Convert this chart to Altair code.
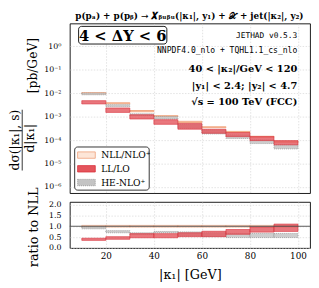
import altair as alt
import pandas as pd

# ---------------- data ----------------
bin_lo = [10, 20, 30, 40, 50, 60, 70, 80, 90]
bin_hi = [20, 30, 40, 50, 60, 70, 80, 90, 100]

# main panel  dσ/d|κ1|  [pb/GeV]
nll_lo = [9.3e-3, 3.55e-3, 1.62e-3, 1.00e-3, 5.6e-4, 3.4e-4, 2.14e-4, 1.32e-4, 8.1e-5]
nll_hi = [1.05e-2, 3.90e-3, 1.82e-3, 1.10e-3, 6.3e-4, 3.7e-4, 2.34e-4, 1.45e-4, 8.9e-5]
ll_lo = [3.47e-3, 1.51e-3, 7.9e-4, 4.7e-4, 2.9e-4, 1.95e-4, 1.41e-4, 9.5e-5, 6.3e-5]
ll_hi = [4.79e-3, 2.34e-3, 1.20e-3, 7.4e-4, 5.1e-4, 2.90e-4, 2.09e-4, 1.41e-4, 9.5e-5]
he_lo = [8.5e-3, 2.69e-3, 1.12e-3, 7.9e-4, 3.16e-4, 1.82e-4, 1.17e-4, 7.1e-5, 4.2e-5]
he_hi = [1.02e-2, 3.24e-3, 1.32e-3, 1.02e-3, 4.68e-4, 2.69e-4, 1.66e-4, 1.02e-4, 6.3e-5]

# ratio panel (to NLL)
nll_r_lo = [0.96, 0.96, 0.96, 0.96, 0.96, 0.96, 0.96, 0.96, 0.96]
nll_r_hi = [1.04, 1.04, 1.04, 1.04, 1.04, 1.04, 1.04, 1.04, 1.04]
ll_r_lo = [0.35, 0.40, 0.47, 0.47, 0.52, 0.52, 0.63, 0.73, 0.76]
ll_r_hi = [0.45, 0.52, 0.66, 0.66, 0.70, 0.77, 0.85, 0.97, 1.10]
he_r_lo = [0.88, 0.70, 0.62, 0.70, 0.55, 0.52, 0.48, 0.48, 0.48]
he_r_hi = [0.97, 0.80, 0.70, 0.76, 0.74, 0.70, 0.67, 0.67, 0.67]

series_names = ["NLL/NLO⁺", "LL/LO", "HE-NLO⁺"]
x_ticks = [20, 40, 60, 80, 100]
y_ticks = [1e-6, 1e-5, 1e-4, 1e-3, 1e-2, 1e-1, 1]
y_exps = [-6, -5, -4, -3, -2, -1, 0]
y_tick_labels = ["10⁻⁶", "10⁻⁵", "10⁻⁴", "10⁻³", "10⁻²", "10⁻¹", "10⁰"]
r_ticks = [0.0, 0.5, 1.0, 1.5, 2.0]

# ---------------- styling ----------------
SERIF = "DejaVu Serif"
MONO = "DejaVu Sans Mono"
W, H, HR = 245, 173, 47

NLL_FILL, NLL_STROKE = "#fde6d8", "#f0a078"
LL_FILL, LL_STROKE = "#e4555c", "#d8303a"
HE_FILL, HE_STROKE = "#c4c4c4", "#8c8c8c"

xscale = alt.Scale(domain=[5, 105], nice=False, zero=False)
yscale = alt.Scale(type="log", domain=[5.5e-7, 9.4], nice=False)
rscale = alt.Scale(domain=[0, 2.12], nice=False, zero=False)

expr = "''"
for e, lab in zip(y_exps, y_tick_labels):
    expr = f"abs(log(datum.value)/LN10 - ({e})) < 0.1 ? '{lab}' : " + expr

gridkw = dict(grid=True, gridColor="#cfcfcf", gridDash=[1.5, 1.5], gridWidth=0.6,
              ticks=False, domain=False)

ax_main_x = alt.Axis(values=x_ticks, labels=False, title=None, **gridkw)
ax_main_y = alt.Axis(values=y_ticks, labelExpr=expr, title=None, labelPadding=9,
                     labelFont=SERIF, labelFontSize=8, **gridkw)
ax_r_x = alt.Axis(values=x_ticks, title="|κ₁|  [GeV]", labelFont=SERIF, labelFontSize=9,
                  labelPadding=4, titleFont=SERIF, titleFontSize=13, titleFontWeight="normal",
                  titlePadding=8, **gridkw)
ax_r_y = alt.Axis(values=r_ticks, format=".1f", title=None, labelPadding=9,
                  labelFont=SERIF, labelFontSize=8, **gridkw)


def band_df(lo, hi):
    return pd.DataFrame({"x": bin_lo, "x2": bin_hi, "y": lo, "y2": hi})


def bands(df, ysc, yax, xax, fill, stroke, op, sw=0.7, dash=None):
    kw = dict(fill=fill, stroke=stroke, strokeWidth=sw, fillOpacity=op)
    if dash:
        kw["strokeDash"] = dash
    return alt.Chart(df).mark_rect(**kw).encode(
        x=alt.X("x:Q", scale=xscale, axis=xax),
        x2="x2:Q",
        y=alt.Y("y:Q", scale=ysc, axis=yax),
        y2="y2:Q",
    )


one = pd.DataFrame({"a": [0]})


def txt(s, x, y, **kw):
    return alt.Chart(one).mark_text(text=s, **kw).encode(x=alt.value(x), y=alt.value(y))


def box(x1, x2, y1, y2, **kw):
    return alt.Chart(one).mark_rect(**kw).encode(
        x=alt.value(x1), x2=alt.value(x2), y=alt.value(y1), y2=alt.value(y2))


# ---------------- main panel ----------------
m_nll = bands(band_df(nll_lo, nll_hi), yscale, ax_main_y, ax_main_x, NLL_FILL, NLL_STROKE, 0.9, 0.9)
m_he = bands(band_df(he_lo, he_hi), yscale, ax_main_y, ax_main_x, HE_FILL, HE_STROKE, 0.85, 0.7, [1, 1])
m_ll = bands(band_df(ll_lo, ll_hi), yscale, ax_main_y, ax_main_x, LL_FILL, LL_STROKE, 0.8, 0.6)

title = txt("p(pₐ) + p(pᵦ) → 𝑿ᵦᵤᵦᵤ(|κ₁|, y₁) + 𝒳 + jet(|κ₂|, y₂)", 122, -8,
            font=SERIF, fontSize=9, align="center", baseline="middle", fontWeight="bold")

dy_box = box(9, 99, 3, 21, fill="white", stroke="black", strokeWidth=0.9, cornerRadius=3)
dy_txt = txt("4 < ΔY < 6", 54, 12.5, font=SERIF, fontSize=15, fontWeight="bold",
             align="center", baseline="middle")

ann = [
    txt("JETHAD v0.5.3", 232, 13, font=MONO, fontSize=8, align="right", baseline="middle"),
    txt("NNPDF4.0_nlo + TQHL1.1_cs_nlo", 232, 28, font=MONO, fontSize=8.2, align="right", baseline="middle"),
    txt("40 < |κ₂|/GeV < 120", 232, 46.5, font=SERIF, fontSize=10, fontWeight="bold", align="right", baseline="middle"),
    txt("|y₁| < 2.4;  |y₂| < 4.7", 232, 64, font=SERIF, fontSize=10, fontWeight="bold", align="right", baseline="middle"),
    txt("√s = 100 TeV (FCC)", 232, 80, font=SERIF, fontSize=10, fontWeight="bold", align="right", baseline="middle"),
]

# y-axis title as a fraction
ylab = [
    txt("dσ(|κ₁|, s)", -56, 119, font=SERIF, fontSize=12.5, angle=270, align="center", baseline="middle"),
    alt.Chart(one).mark_rule(color="black", strokeWidth=0.8).encode(
        x=alt.value(-48.5), y=alt.value(88), y2=alt.value(150)),
    txt("d|κ₁|", -40, 117, font=SERIF, fontSize=12.5, angle=270, align="center", baseline="middle"),
    txt("[pb/GeV]", -37, 43, font=SERIF, fontSize=12.5, angle=270, align="center", baseline="middle"),
]

# legend
legend = [box(5, 81, 126, 170, fill="white", stroke="black", strokeWidth=0.8, cornerRadius=3)]
sw_style = [(NLL_FILL, NLL_STROKE, None), (LL_FILL, LL_STROKE, None), (HE_FILL, HE_STROKE, [1, 1])]
for i, (name, (f, s, d)) in enumerate(zip(series_names, sw_style)):
    kw = dict(fill=f, stroke=s, strokeWidth=0.8)
    if d:
        kw["strokeDash"] = d
    legend.append(box(8, 26, 131 + 14 * i, 137.5 + 14 * i, **kw))
    legend.append(txt(name, 32, 134.5 + 14 * i, font=SERIF, fontSize=9.3, align="left", baseline="middle"))

main = alt.layer(m_nll, m_he, m_ll, title, dy_box, dy_txt, *ann, *ylab, *legend).properties(width=W, height=H)

# ---------------- ratio panel ----------------
r_nll = bands(band_df(nll_r_lo, nll_r_hi), rscale, ax_r_y, ax_r_x, NLL_FILL, NLL_STROKE, 0.9, 0.6)
r_he = bands(band_df(he_r_lo, he_r_hi), rscale, ax_r_y, ax_r_x, HE_FILL, HE_STROKE, 0.85, 0.7, [1, 1])
r_ll = bands(band_df(ll_r_lo, ll_r_hi), rscale, ax_r_y, ax_r_x, LL_FILL, LL_STROKE, 0.8, 0.6)
one_line = alt.Chart(pd.DataFrame({"v": [1.0]})).mark_rule(color="#444444", strokeWidth=0.9).encode(
    y=alt.Y("v:Q", scale=rscale, axis=ax_r_y))
r_lab = txt("ratio to NLL", -36, 26, font=SERIF, fontSize=13, angle=270, align="center", baseline="middle")

ratio = alt.layer(r_nll, r_he, r_ll, one_line, r_lab).properties(width=W, height=HR)

chart = alt.vconcat(main, ratio, spacing=9, bounds="flush").properties(padding=0).configure_view(
    stroke="black", strokeWidth=0.9
).configure_axis(labelColor="black")

chart.save("out.html", embed_options={"renderer": "svg", "actions": False})
